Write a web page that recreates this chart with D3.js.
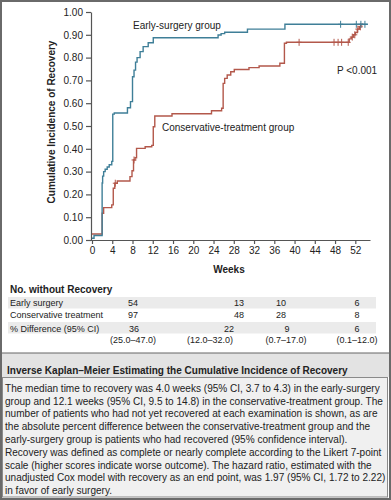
<!DOCTYPE html>
<html>
<head>
<meta charset="utf-8">
<script src="https://cdn.jsdelivr.net/npm/d3@7"></script>
<style>
  body { margin: 0; background: #fff; }
  svg { display: block; font-family: "Liberation Sans", Arial, sans-serif; }
</style>
</head>
<body>
<div id="viz"></div>
<script>
// step points: week, cumulative incidence after that week
var earlyWeeks = [0, 0.4, 2.0, 2.1, 2.3, 2.6, 3.0, 3.4, 3.9, 4.1, 4.4, 7.0, 7.6, 8.0, 8.3, 8.6, 8.9, 9.5, 10.1, 11.1, 12.1, 24.9, 25.5, 26.2, 30.7, 38.1, 54.5],
    earlyValues = [0.008, 0.02, 0.25, 0.28, 0.30, 0.31, 0.32, 0.33, 0.345, 0.552, 0.557, 0.58, 0.607, 0.716, 0.745, 0.78, 0.80, 0.826, 0.848, 0.865, 0.887, 0.899, 0.905, 0.911, 0.925, 0.946, 0.946],
    earlyCensored = [49.1, 52.2, 53.1, 53.9];

var consWeeks = [0, 2.0, 2.3, 3.9, 4.2, 4.5, 5.0, 7.5, 7.9, 8.2, 8.5, 8.8, 10.5, 11.8, 12.1, 12.4, 15.8, 23.6, 25.6, 25.9, 26.2, 26.7, 27.4, 28.1, 31.0, 33.0, 37.1, 38.0, 38.4, 50.8, 51.2, 51.6, 52.0, 52.4, 52.8, 53.1, 53.4],
    consValues = [0.026, 0.117, 0.142, 0.154, 0.227, 0.249, 0.259, 0.278, 0.304, 0.351, 0.361, 0.402, 0.409, 0.415, 0.497, 0.544, 0.554, 0.567, 0.578, 0.687, 0.709, 0.724, 0.738, 0.748, 0.756, 0.763, 0.775, 0.863, 0.867, 0.882, 0.89, 0.90, 0.91, 0.925, 0.935, 0.945, 0.95],
    consCensored = [4.6, 8.3, 40.9, 47.8, 48.6, 49.3, 50.6, 51.4, 51.9, 52.5, 53.0];

var xTicks = [0, 4, 8, 12, 16, 20, 24, 28, 32, 36, 40, 44, 48, 52],
    yTicks = [0, 0.1, 0.2, 0.3, 0.4, 0.5, 0.6, 0.7, 0.8, 0.9, 1.0];

var tableRows = ['Early surgery', 'Conservative treatment', '% Difference (95% CI)'],
    earlyAtRisk = ['54', '13', '10', '6'],
    consAtRisk = ['97', '48', '28', '8'],
    pctDiff = ['36', '22', '9', '6'],
    pctDiffCI = ['(25.0\u201347.0)', '(12.0\u201332.0)', '(0.7\u201317.0)', '(0.1\u201312.0)'];

var captionTitle = 'Inverse Kaplan\u2013Meier Estimating the Cumulative Incidence of Recovery',
    captionLines = [
      'The median time to recovery was 4.0 weeks (95% CI, 3.7 to 4.3) in the early-surgery',
      'group and 12.1 weeks (95% CI, 9.5 to 14.8) in the conservative-treatment group. The',
      'number of patients who had not yet recovered at each examination is shown, as are',
      'the absolute percent difference between the conservative-treatment group and the',
      'early-surgery group is patients who had recovered (95% confidence interval).',
      'Recovery was defined as complete or nearly complete according to the Likert 7-point',
      'scale (higher scores indicate worse outcome). The hazard ratio, estimated with the',
      'unadjusted Cox model with recovery as an end point, was 1.97 (95% CI, 1.72 to 2.22)',
      'in favor of early surgery.'
    ];

var W = 391, H = 500,
    blue = '#3f7f98',
    red = '#b3584b',
    axisColor = '#555',
    textColor = '#222';

var svg = d3.select('#viz').append('svg')
    .attr('width', W)
    .attr('height', H);

svg.append('rect').attr('width', W).attr('height', H).attr('fill', '#fff');

var xScale = d3.scaleLinear().domain([0, 55]).range([92, 370.5]),
    yScale = d3.scaleLinear().domain([0, 1]).range([240, 12]);

// axes
var yAxis = svg.append('g')
    .attr('transform', 'translate(' + (xScale(0) - 1) + ',0)')
    .call(d3.axisLeft(yScale).tickValues(yTicks).tickFormat(d3.format('.2f')).tickSize(5).tickSizeOuter(0).tickPadding(3));

var xAxis = svg.append('g')
    .attr('transform', 'translate(0,' + yScale(0) + ')')
    .call(d3.axisBottom(xScale).tickValues(xTicks).tickSize(4).tickSizeOuter(0).tickPadding(3));

[yAxis, xAxis].forEach(function(g) {
    g.select('.domain').attr('stroke', axisColor).attr('stroke-width', 1.2);
    g.selectAll('.tick line').attr('stroke', axisColor).attr('stroke-width', 1.2);
    g.selectAll('.tick text').attr('fill', textColor).style('font-size', '10px').style('font-family', 'Liberation Sans, Arial, sans-serif');
});
xAxis.select('.domain').attr('d', 'M' + (xScale(0) - 1) + ',0.5H' + xScale(55));

svg.append('text')
    .attr('transform', 'translate(55,122) rotate(-90)')
    .attr('text-anchor', 'middle')
    .attr('fill', textColor)
    .style('font-size', '10px')
    .style('font-weight', 'bold')
    .text('Cumulative Incidence of Recovery');

svg.append('text')
    .attr('x', 229).attr('y', 272.5)
    .attr('text-anchor', 'middle')
    .attr('fill', textColor)
    .style('font-size', '10px')
    .style('font-weight', 'bold')
    .text('Weeks');

// curves
var line = d3.line()
    .x(function(d) { return xScale(d[0]); })
    .y(function(d) { return yScale(d[1]); })
    .curve(d3.curveStepAfter);

function stepValue(weeks, values, t) {
    var i = d3.bisectRight(weeks, t) - 1;
    return values[Math.max(0, i)];
}

function drawCurve(weeks, values, censored, color) {
    var pts = weeks.map(function(w, i) { return [w, values[i]]; });
    svg.append('path')
        .datum(pts)
        .attr('fill', 'none')
        .attr('stroke', color)
        .attr('stroke-width', 1.4)
        .attr('d', line);

    var marks = svg.append('g').selectAll('g').data(censored)
        .enter().append('g')
        .attr('transform', function(d) {
            return 'translate(' + xScale(d) + ',' + yScale(stepValue(weeks, values, d)) + ')';
        });
    marks.append('line')
        .attr('y1', -3.5).attr('y2', 3.5)
        .attr('stroke', color).attr('stroke-width', 1);
    marks.append('line')
        .attr('x1', -2.5).attr('x2', 2.5)
        .attr('stroke', color).attr('stroke-width', 1);
}

drawCurve(consWeeks, consValues, consCensored, red);
drawCurve(earlyWeeks, earlyValues, earlyCensored, blue);

svg.append('text').attr('x', 133).attr('y', 28.5)
    .attr('fill', textColor).style('font-size', '10px')
    .text('Early-surgery group');
svg.append('text').attr('x', 162).attr('y', 130.5)
    .attr('fill', textColor).style('font-size', '10px')
    .text('Conservative-treatment group');
svg.append('text').attr('x', 337).attr('y', 73.5)
    .attr('fill', textColor).style('font-size', '10px')
    .text('P <0.001');

// table of patients without recovery
svg.append('text').attr('x', 10).attr('y', 292.5)
    .attr('fill', textColor)
    .style('font-size', '10px').style('font-weight', 'bold')
    .text('No. without Recovery');

var rowTop = [297, 309.5, 322],
    rowH = 11.5,
    rowBase = [305.5, 318.2, 331.5],
    colX = [133, 239, 281, 357],
    diffX = [134, 229, 287, 357],
    ciX = [133, 210, 286, 357];

svg.selectAll('rect.band').data([0, 2])
    .enter().append('rect')
    .attr('class', 'band')
    .attr('x', 8).attr('width', 368)
    .attr('y', function(d) { return rowTop[d]; })
    .attr('height', rowH)
    .attr('fill', '#ebebeb');

svg.selectAll('text.rowlabel').data(tableRows)
    .enter().append('text')
    .attr('class', 'rowlabel')
    .attr('x', 10)
    .attr('y', function(d, i) { return rowBase[i]; })
    .attr('fill', textColor)
    .style('font-size', '9px')
    .text(function(d) { return d; });

function tableRow(vals, xs, y) {
    svg.append('g').selectAll('text').data(vals)
        .enter().append('text')
        .attr('x', function(d, i) { return xs[i]; })
        .attr('y', y)
        .attr('text-anchor', 'middle')
        .attr('fill', textColor)
        .style('font-size', '9px')
        .text(function(d) { return d; });
}
tableRow(earlyAtRisk, colX, rowBase[0]);
tableRow(consAtRisk, colX, rowBase[1]);
tableRow(pctDiff, diffX, rowBase[2]);
tableRow(pctDiffCI, ciX, 343.2);

// caption box
svg.append('rect').attr('x', 1).attr('y', 353).attr('width', W - 2).attr('height', 24)
    .attr('fill', '#e3e3e3');
svg.append('line').attr('x1', 1).attr('x2', W - 1).attr('y1', 353).attr('y2', 353)
    .attr('stroke', '#666').attr('stroke-width', 1.2);
svg.append('rect').attr('x', 2.5).attr('y', 377.5).attr('width', 385).attr('height', 119.5)
    .attr('fill', '#f0f0f0').attr('stroke', '#8a8a8a').attr('stroke-width', 1);

var title = svg.append('text').attr('x', 7).attr('y', 373.5)
    .attr('fill', textColor)
    .style('font-size', '10px').style('font-weight', 'bold')
    .text(captionTitle);
var tw = title.node().getComputedTextLength();
title.style('font-size', (10 * 341 / tw) + 'px');

var body = svg.append('g').selectAll('text').data(captionLines)
    .enter().append('text')
    .attr('x', 5)
    .attr('y', function(d, i) { return 391.7 + i * 12.8; })
    .attr('fill', textColor)
    .style('font-size', '10px')
    .text(function(d) { return d; });
var bw = body.nodes()[0].getComputedTextLength();
body.style('font-size', (10 * 375 / bw) + 'px');

// outer frame
svg.append('rect').attr('x', 1).attr('y', 1).attr('width', W - 2).attr('height', H - 2)
    .attr('fill', 'none').attr('stroke', '#6a6a6a').attr('stroke-width', 2);
</script>
</body>
</html>
